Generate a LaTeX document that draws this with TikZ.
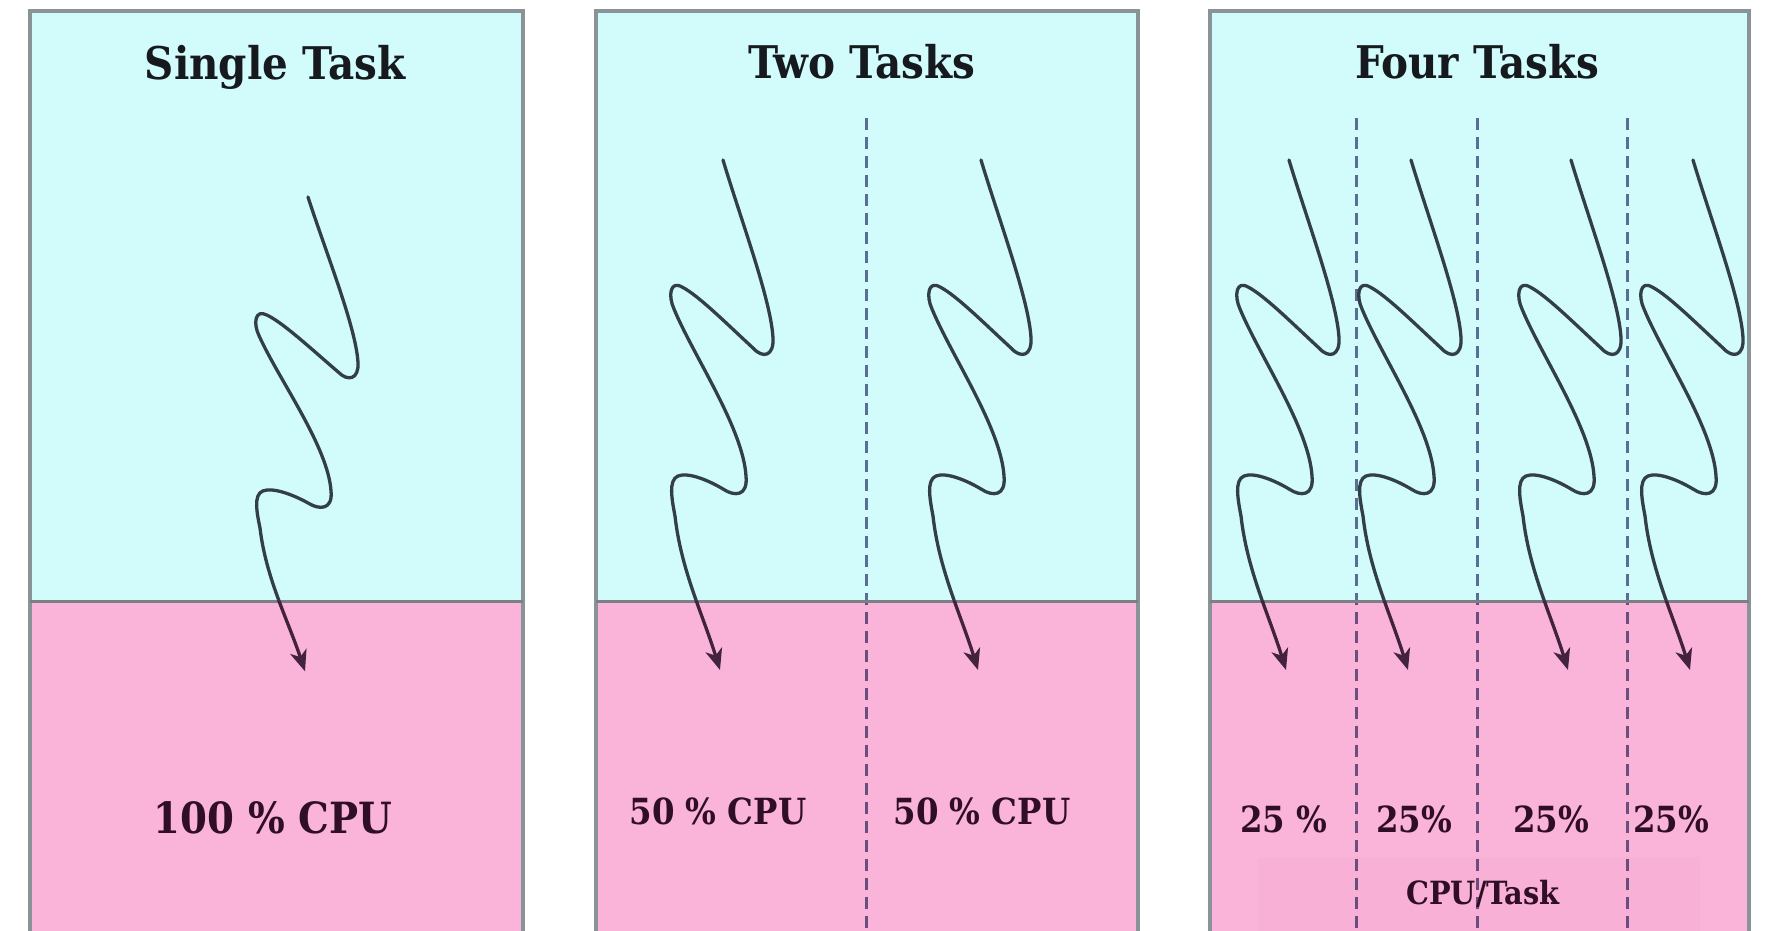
\documentclass[tikz,border=0pt]{standalone}
\usepackage{fontspec}
\setmainfont{DejaVu Serif Condensed}
\usetikzlibrary{arrows.meta}
\definecolor{cyanfill}{RGB}{210,251,252}
\definecolor{pinkfill}{RGB}{251,180,217}
\definecolor{pinkdeep}{RGB}{249,176,214}
\definecolor{framecol}{RGB}{138,148,150}
\definecolor{sepcol}{RGB}{122,128,132}
\definecolor{dashcol}{RGB}{108,112,148}
\definecolor{squigcol}{RGB}{50,62,72}
\definecolor{squigpink}{RGB}{66,34,62}
\definecolor{titlecol}{RGB}{22,26,30}
\definecolor{labelcol}{RGB}{48,14,40}
\newcommand\squig[3]{%
  \draw[squigline, shift={(#1,#2)}, yscale=#3]
    (0,0) .. controls (18,60) and (48,140) .. (50,178)
    .. controls (51,196) and (40,199) .. (30,188)
    .. controls (5,165) and (-25,135) .. (-41,127)
    .. controls (-53,120) and (-55,136) .. (-49,149)
    .. controls (-30,195) and (20,268) .. (23,316)
    .. controls (25,336) and (12,337) .. (0,329)
    .. controls (-15,320) and (-35,312) .. (-45,316)
    .. controls (-55,320) and (-51,340) .. (-48,356)
    .. controls (-42,410) and (-20,455) .. (-3,510);}
\newcommand\allsquigs{%
  \squig{308}{197}{0.93}
  \squig{723}{160}{1}
  \squig{981}{160}{1}
  \squig{1289}{160}{1}
  \squig{1411}{160}{1}
  \squig{1571}{160}{1}
  \squig{1693}{160}{1}}
\tikzset{
  titletext/.style={font=\bfseries\fontsize{45}{50}\selectfont, text=titlecol, anchor=base, inner sep=0pt},
  bigcpu/.style={font=\bfseries\fontsize{43}{48}\selectfont, text=labelcol, anchor=base, inner sep=0pt},
  midcpu/.style={font=\bfseries\fontsize{36}{42}\selectfont, text=labelcol, anchor=base, inner sep=0pt},
  smallcpu/.style={font=\bfseries\fontsize{36}{42}\selectfont, text=labelcol, anchor=base, inner sep=0pt},
  unitcpu/.style={font=\bfseries\fontsize{32}{38}\selectfont, text=labelcol, anchor=base, inner sep=0pt},
  divline/.style={draw=dashcol, line width=3pt, dash pattern=on 12pt off 7pt},
  squigline/.style={line width=3.3pt, line cap=round, line join=round,
    -{Stealth[length=21pt,width=17pt,inset=6pt]}},
  frameline/.style={draw=framecol, line width=3.5pt},
  sepline/.style={draw=sepcol, line width=3pt},
}
\begin{document}
\begin{tikzpicture}[x=1pt,y=-1pt]
\useasboundingbox (0,0) rectangle (1772,930);
\fill[white] (0,0) rectangle (1772,930);
\clip (0,0) rectangle (1772,930);
% panels
\foreach \l/\r in {30/523, 596/1138, 1210/1749}{
  \fill[cyanfill] (\l,11) rectangle (\r,601);
  \fill[pinkfill] (\l,601) rectangle (\r,945);
}
\fill[pinkdeep] (1258,857) rectangle (1700,945);
% dashed separators
\begin{scope}[blend mode=multiply]
  \draw[divline] (866,118) -- (866,945);
  \draw[divline] (1356,118) -- (1356,945);
  \draw[divline] (1477,118) -- (1477,945);
  \draw[divline] (1627,118) -- (1627,945);
\end{scope}
% frames
\foreach \l/\r in {30/523, 596/1138, 1210/1749}{
  \draw[frameline] (\l,945) -- (\l,11) -- (\r,11) -- (\r,945);
  \draw[sepline] (\l,601) -- (\r,601);
}
% titles
\node[titletext] (t1) at (275,79) {Single Task};
\node[titletext] (t2) at (862,78) {Two Tasks};
\node[titletext] (t3) at (1477,78) {Four Tasks};
% squiggles: dark teal over the cyan part, dark purple over the pink part
\begin{scope}
  \clip (0,0) rectangle (1772,601);
  \begin{scope}[squigcol]\allsquigs\end{scope}
\end{scope}
\begin{scope}
  \clip (0,601) rectangle (1772,945);
  \begin{scope}[squigpink]\allsquigs\end{scope}
\end{scope}
% labels
\node[bigcpu] (c1) at (273,833) {100 \% CPU};
\node[midcpu] (c2) at (718,824) {50 \% CPU};
\node[midcpu] (c3) at (982,824) {50 \% CPU};
\node[smallcpu] (q1) at (1284,832) {25 \%};
\node[smallcpu] (q2) at (1414,832) {25\%};
\node[smallcpu] (q3) at (1551,832) {25\%};
\node[smallcpu] (q4) at (1671,832) {25\%};
\node[unitcpu] (u) at (1483,904) {CPU/Task};
\end{tikzpicture}
\end{document}
